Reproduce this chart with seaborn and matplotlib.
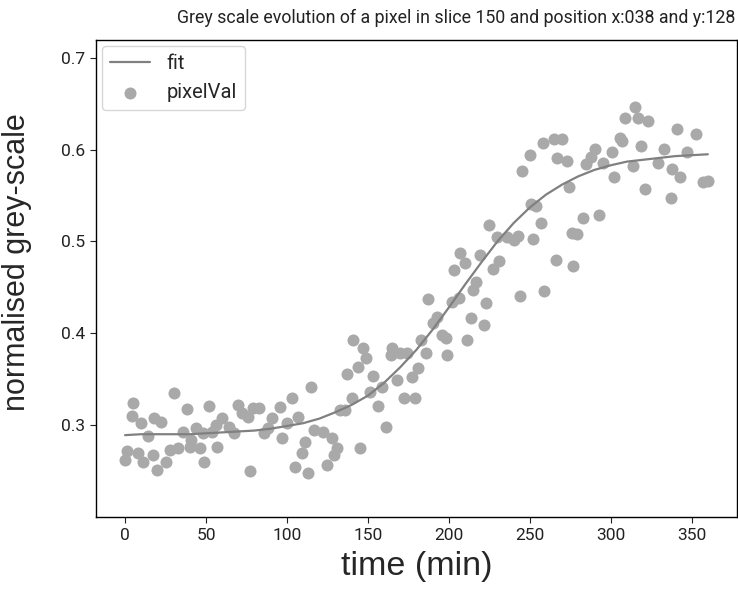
import numpy as np
import pandas as pd
import matplotlib
matplotlib.use('Agg')
import matplotlib.pyplot as plt
import seaborn as sns

# pixel grey values (time in min, normalised grey value)
time_min = [0, 1, 4, 5, 8, 10, 11, 14, 17, 18, 20, 22, 25, 28, 30, 33, 36, 38, 40, 41,
            44, 46, 48, 49, 52, 54, 56, 57, 60, 64, 67, 70, 72, 76, 77, 79, 83, 86, 88, 91,
            96, 97, 100, 103, 105, 107, 109, 111, 113, 115, 117, 122, 125, 128, 129, 131, 133, 136, 137, 140,
            141, 144, 145, 147, 149, 151, 153, 156, 159, 161, 164, 165, 168, 170, 172, 174, 177, 179, 181, 183,
            186, 187, 190, 193, 196, 198, 199, 202, 203, 206, 207, 210, 211, 214, 215, 217, 219, 222, 223, 225,
            227, 230, 231, 236, 240, 243, 244, 245, 250, 251, 252, 254, 257, 258, 259, 265, 266, 267, 270, 273,
            274, 276, 277, 279, 283, 285, 288, 290, 293, 295, 301, 302, 306, 307, 309, 314, 315, 317, 319, 321,
            323, 329, 333, 337, 338, 341, 343, 347, 353, 357, 360]
pixel_val = [0.262, 0.272, 0.310, 0.324, 0.269, 0.302, 0.260, 0.288, 0.267, 0.308, 0.251, 0.303, 0.260, 0.273, 0.335, 0.275, 0.292, 0.317, 0.276, 0.284,
             0.297, 0.275, 0.291, 0.260, 0.321, 0.292, 0.300, 0.276, 0.308, 0.298, 0.291, 0.322, 0.313, 0.309, 0.250, 0.319, 0.319, 0.291, 0.297, 0.308,
             0.320, 0.286, 0.302, 0.329, 0.254, 0.309, 0.269, 0.281, 0.248, 0.341, 0.295, 0.292, 0.256, 0.286, 0.267, 0.275, 0.316, 0.316, 0.356, 0.329,
             0.393, 0.363, 0.275, 0.384, 0.373, 0.336, 0.353, 0.321, 0.341, 0.298, 0.376, 0.384, 0.349, 0.378, 0.329, 0.378, 0.352, 0.329, 0.362, 0.393,
             0.378, 0.437, 0.411, 0.418, 0.398, 0.395, 0.376, 0.434, 0.469, 0.438, 0.487, 0.477, 0.393, 0.417, 0.447, 0.456, 0.485, 0.409, 0.433, 0.518,
             0.470, 0.505, 0.479, 0.505, 0.502, 0.506, 0.441, 0.577, 0.594, 0.541, 0.503, 0.539, 0.520, 0.607, 0.446, 0.612, 0.480, 0.591, 0.612, 0.588,
             0.559, 0.509, 0.473, 0.508, 0.526, 0.584, 0.592, 0.601, 0.529, 0.585, 0.598, 0.570, 0.613, 0.609, 0.635, 0.582, 0.647, 0.634, 0.604, 0.557,
             0.631, 0.586, 0.601, 0.547, 0.579, 0.623, 0.570, 0.598, 0.617, 0.565, 0.566]

# fitted curve, read every 10 min
fit_time = list(range(0, 361, 10))
fit_val = [0.289, 0.290, 0.290, 0.290, 0.290, 0.291, 0.292, 0.293, 0.294, 0.296,
           0.299, 0.302, 0.307, 0.314, 0.322, 0.332, 0.346, 0.363, 0.382, 0.404,
           0.428, 0.453, 0.477, 0.500, 0.520, 0.537, 0.551, 0.562, 0.571, 0.578,
           0.583, 0.587, 0.589, 0.591, 0.593, 0.594, 0.595]

df_px = pd.DataFrame({'time': time_min, 'value': pixel_val})
df_fit = pd.DataFrame({'time': fit_time, 'value': fit_val})

sns.set_style('ticks')
plt.rcParams['font.family'] = ['Roboto', 'DejaVu Sans']

fig = plt.figure(figsize=(7.38, 5.93), dpi=100)
ax = fig.add_axes([0.130, 0.128, 0.8686, 0.8047])

sns.lineplot(data=df_fit, x='time', y='value', color='#808080', linewidth=1.6, label='fit', ax=ax)
sns.scatterplot(data=df_px, x='time', y='value', color='#a9a9a9', s=75, linewidth=0, label='pixelVal', ax=ax)

ax.set_xlim(-18, 378)
ax.set_ylim(0.1997, 0.7196)
ax.set_xticks(range(0, 351, 50))
ax.set_yticks([0.3, 0.4, 0.5, 0.6, 0.7])
ax.tick_params(labelsize=12.5, colors='#222222', direction='out', length=4)
for s in ax.spines.values():
    s.set_color('black')
    s.set_linewidth(1)

ax.set_xlabel('time (min)', fontsize=24.5, family='Liberation Sans', labelpad=6)
ax.set_ylabel('normalised grey-scale', fontsize=22, family='Liberation Sans', labelpad=6)
ax.yaxis.set_label_coords(-0.1, 0.535)

ax.legend(loc='upper left', fontsize=14.5, frameon=True, borderpad=0.4,
          borderaxespad=0.3, handlelength=2.0)

fig.text(0.996, 0.985, 'Grey scale evolution of a pixel in slice 150 and position x:038 and y:128',
         ha='right', va='top', fontsize=12.8, color='#222222')

fig.savefig('out.png', dpi=100)
